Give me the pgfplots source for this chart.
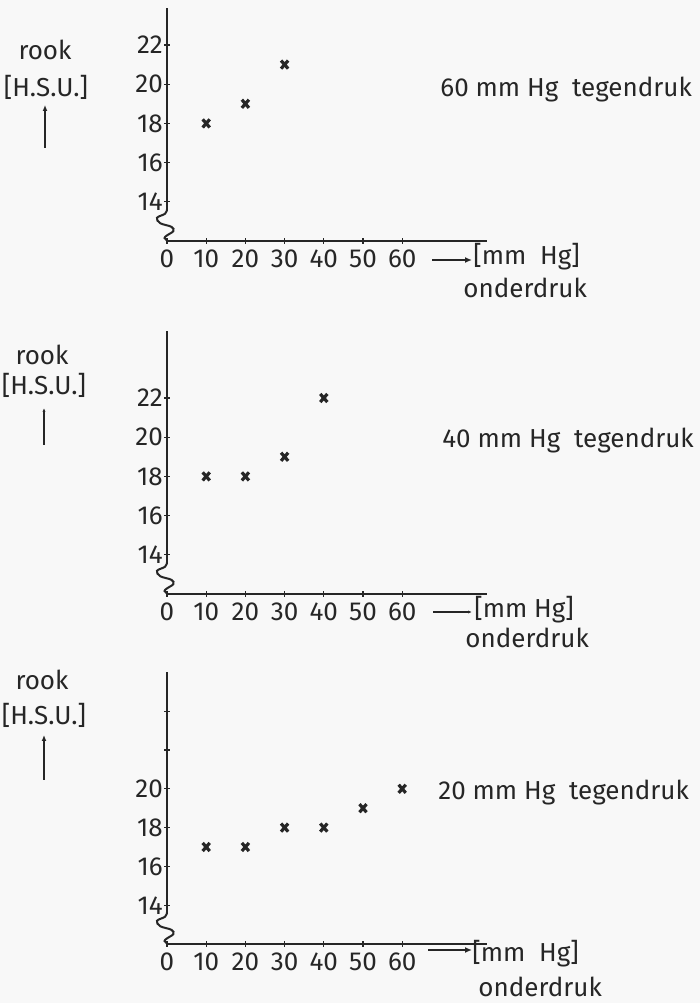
\documentclass[border=0pt]{standalone}
\usepackage{pgfplots}
\pgfplotsset{compat=1.18}
\usepackage{fontspec}
\setmainfont{Fira Sans}
\usetikzlibrary{arrows.meta}

\definecolor{ink}{HTML}{262626}
\definecolor{paper}{HTML}{F8F8F8}

% measured data: smoke [H.S.U.] against underpressure [mm Hg]
\pgfplotstableread{
x y
10 18
20 19
30 21
}\tegenSixty
\pgfplotstableread{
x y
10 18
20 18
30 19
40 22
}\tegenForty
\pgfplotstableread{
x y
10 17
20 17
30 18
40 18
50 19
60 20
}\tegenTwenty

\newcommand{\txt}{\fontsize{13}{15}\selectfont}

\pgfplotsset{
  panel/.style={
    scale only axis,
    anchor=south west,
    x=1.96pt,
    xmin=0, xmax=81.6, ymin=12,
    axis x line=bottom, axis y line=left,
    axis line style={-, ink, line width=0.9pt},
    y axis line style={draw=none},
    xtick={0,10,...,60},
    major tick length=2.6pt,
    every tick/.style={ink, line width=0.6pt},
    tick label style={font=\txt, text=ink, inner sep=0pt},
    xticklabel style={yshift=-3pt},
    yticklabel style={xshift=-0.6pt},
    /pgf/number format/assume math mode=true,
    clip=false,
  },
  crosses/.style={only marks, mark=x, mark size=2.5pt, ink,
    mark options={line width=1.6pt, yscale=1.15}},
}

% broken-axis squiggle below the y axis
\newcommand{\brokenaxis}[1]{%
  \draw[ink, line width=0.9pt] (axis cs:0,13.6) -- (axis cs:0,#1);
  \draw[ink, line width=1pt, shift={(axis cs:0,12)}]
    plot[smooth, tension=0.6] coordinates
    {(0pt,15.7pt) (-1pt,13.6pt) (-5pt,11.6pt) (-3.4pt,8.9pt) (2.2pt,7.1pt)
     (3.2pt,5pt) (0pt,2.8pt) (-1.2pt,1.5pt) (0.4pt,0pt)};
}

\begin{document}
\begin{tikzpicture}
\path[use as bounding box, fill=paper] (0,0) rectangle (350pt,501.5pt);

% ---- 60 mm Hg ----
\begin{axis}[panel, at={(83.5pt,381pt)}, y=9.8pt, ymax=23.9,
  ytick={14,16,...,22}]
  \addplot[crosses] table[x=x,y=y] {\tegenSixty};
  \brokenaxis{23.9}
\end{axis}
\node[font=\txt, text=ink] at (22.5pt,476.5pt) {rook};
\node[font=\txt, text=ink] at (23pt,458pt) {[H.S.U.]};
\draw[ink, line width=0.8pt, -{Latex[length=3pt,width=2.5pt]}] (22.5pt,427.5pt) -- (22.5pt,449pt);
\node[font=\txt, text=ink, anchor=base west, inner sep=0pt] at (220pt,453pt) {60 mm Hg\ \ tegendruk};
\draw[ink, line width=0.8pt, -{Latex[length=3.5pt,width=3pt]}] (216pt,371.5pt) -- (236pt,371.5pt);
\node[font=\txt, text=ink, anchor=base west, inner sep=0pt] at (236.5pt,369pt) {[mm\ \ Hg]};
\node[font=\txt, text=ink, anchor=base west, inner sep=0pt] at (231.5pt,352.5pt) {onderdruk};

% ---- 40 mm Hg ----
\begin{axis}[panel, at={(83.5pt,204.5pt)}, y=9.8pt, ymax=25.4,
  ytick={14,16,...,22}]
  \addplot[crosses] table[x=x,y=y] {\tegenForty};
  \brokenaxis{25.4}
\end{axis}
\node[font=\txt, text=ink] at (21pt,324pt) {rook};
\node[font=\txt, text=ink] at (22pt,309pt) {[H.S.U.]};
\draw[ink, line width=0.8pt, -{Latex[length=2pt,width=1.6pt]}] (22pt,279pt) -- (22pt,297.5pt);
\node[font=\txt, text=ink, anchor=base west, inner sep=0pt] at (221pt,277.5pt) {40 mm Hg\ \ tegendruk};
\draw[ink, line width=0.8pt, -{Latex[length=2pt,width=1.6pt]}] (216.5pt,195.5pt) -- (236pt,195.5pt);
\node[font=\txt, text=ink, anchor=base west, inner sep=0pt] at (237pt,192.5pt) {[mm Hg]};
\node[font=\txt, text=ink, anchor=base west, inner sep=0pt] at (232.5pt,177.5pt) {onderdruk};

% ---- 20 mm Hg ----
\begin{axis}[panel, at={(83.5pt,29.5pt)}, y=9.7pt, ymax=26,
  ytick={14,16,...,24}, yticklabels={14,16,18,20,{},{}}]
  \addplot[crosses] table[x=x,y=y] {\tegenTwenty};
  \brokenaxis{26}
\end{axis}
\node[font=\txt, text=ink] at (21pt,161.5pt) {rook};
\node[font=\txt, text=ink] at (22pt,144pt) {[H.S.U.]};
\draw[ink, line width=0.8pt, -{Latex[length=3pt,width=2.5pt]}] (22pt,111.5pt) -- (22pt,134pt);
\node[font=\txt, text=ink, anchor=base west, inner sep=0pt] at (219pt,101.5pt) {20 mm Hg\ \ tegendruk};
\draw[ink, line width=0.8pt, -{Latex[length=3.5pt,width=3pt]}] (214pt,26.5pt) -- (236pt,26.5pt);
\node[font=\txt, text=ink, anchor=base west, inner sep=0pt] at (236pt,20.5pt) {[mm\ \ Hg]};
\node[font=\txt, text=ink, anchor=base west, inner sep=0pt] at (239pt,3pt) {onderdruk};
\end{tikzpicture}
\end{document}
